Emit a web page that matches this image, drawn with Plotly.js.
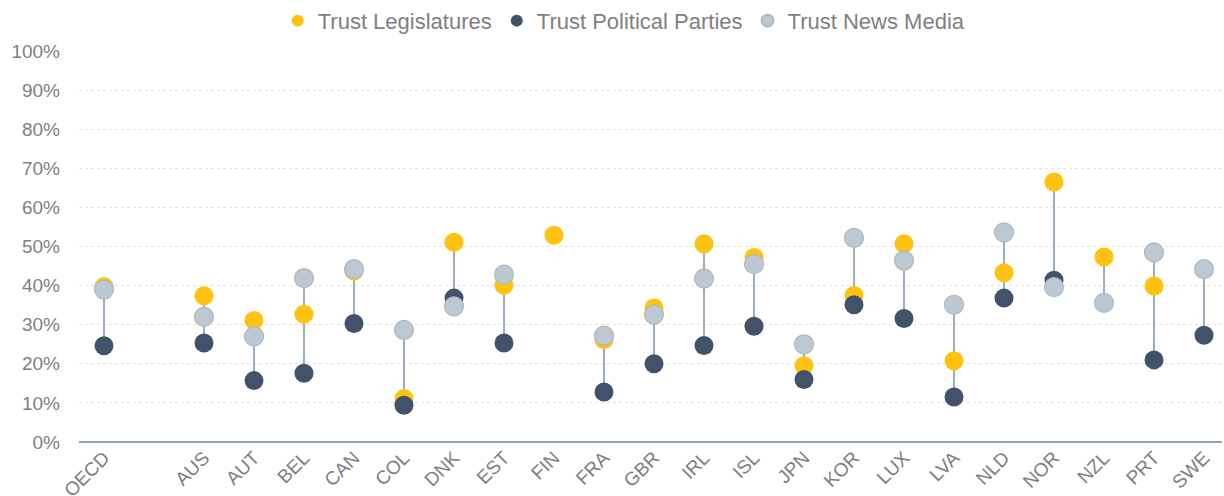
<!DOCTYPE html>
<html>
<head>
<meta charset="utf-8">
<script src="https://cdn.plot.ly/plotly-3.0.1.min.js"></script>
<style>html,body{margin:0;padding:0;background:#fff;}#chart{width:1224px;height:496px;}</style>
</head>
<body>
<div id="chart"></div>
<script>
// Categories (empty string = spacer slot after OECD)
var categories = ["OECD","","AUS","AUT","BEL","CAN","COL","DNK","EST","FIN","FRA","GBR","IRL","ISL","JPN","KOR","LUX","LVA","NLD","NOR","NZL","PRT","SWE"];
var trustLegislatures = [0.398,null,0.374,0.311,0.327,0.437,0.111,0.511,0.401,0.529,0.262,0.343,0.507,0.472,0.195,0.375,0.507,0.208,0.433,0.665,0.473,0.399,null];
var trustParties      = [0.246,null,0.253,0.157,0.176,0.303,0.094,0.368,0.253,null,0.128,0.200,0.247,0.296,0.160,0.351,0.316,0.115,0.368,0.414,null,0.210,0.273];
var trustNewsMedia    = [0.390,null,0.320,0.270,0.419,0.442,0.287,0.347,0.428,null,0.272,0.326,0.418,0.455,0.250,0.522,0.464,0.351,0.536,0.396,0.356,0.485,0.442];
var yTickVals = [0,0.1,0.2,0.3,0.4,0.5,0.6,0.7,0.8,0.9,1.0];
var yTickText = ["0%","10%","20%","30%","40%","50%","60%","70%","80%","90%","100%"];

var idx = categories.map(function(c,i){return i;});

// connector segments from min to max for each category
var segX = [], segY = [];
idx.forEach(function(i){
  var vals = [trustLegislatures[i], trustParties[i], trustNewsMedia[i]].filter(function(v){return v!==null;});
  if (vals.length > 1) {
    segX.push(i, i, null);
    segY.push(Math.min.apply(null, vals), Math.max.apply(null, vals), null);
  }
});

var font = "Liberation Sans, Arial, sans-serif";
var traces = [
  {x: segX, y: segY, mode: "lines", line: {color: "#9DADBF", width: 2}, showlegend: false, hoverinfo: "skip", cliponaxis: false},
  {x: idx, y: trustLegislatures, mode: "markers", name: "Trust Legislatures",
   marker: {color: "#FFC20E", size: 19, line: {width: 0}}, cliponaxis: false},
  {x: idx, y: trustParties, mode: "markers", name: "Trust Political Parties",
   marker: {color: "#42526A", size: 19, line: {width: 0}}, cliponaxis: false},
  {x: idx, y: trustNewsMedia, mode: "markers", name: "Trust News Media",
   marker: {color: "#BCC9D2", size: 19, line: {width: 1.2, color: "#AFB8BF"}}, cliponaxis: false}
];

var layout = {
  width: 1224, height: 496,
  margin: {l: 79, r: 2, t: 51, b: 54},
  paper_bgcolor: "#fff", plot_bgcolor: "#fff",
  font: {family: font, color: "#7F7F7F"},
  showlegend: true,
  legend: {orientation: "h", x: 0.477, xanchor: "center", y: 0.958, yanchor: "middle", yref: "container",
           font: {size: 22, color: "#7F7F7F", family: font}, itemsizing: "constant", traceorder: "normal",
           itemwidth: 30},
  xaxis: {
    range: [-0.5, 22.36], tickmode: "array", tickvals: idx, ticktext: categories,
    tickangle: -45, tickfont: {size: 19, color: "#7F7F7F", family: font},
    showgrid: false, zeroline: false, showline: false, ticks: "", fixedrange: true
  },
  yaxis: {
    range: [0, 1.0], tickmode: "array", tickvals: yTickVals, ticktext: yTickText,
    tickfont: {size: 19, color: "#7F7F7F", family: font},
    showgrid: true, gridcolor: "#E3E3E3", griddash: "3px,3px", gridwidth: 1,
    zeroline: true, zerolinecolor: "#8FA3B8", zerolinewidth: 2,
    showline: false, ticks: "", ticklabelstandoff: 18, fixedrange: true
  }
};

Plotly.newPlot("chart", traces, layout, {displayModeBar: false, staticPlot: true});
</script>
</body>
</html>
